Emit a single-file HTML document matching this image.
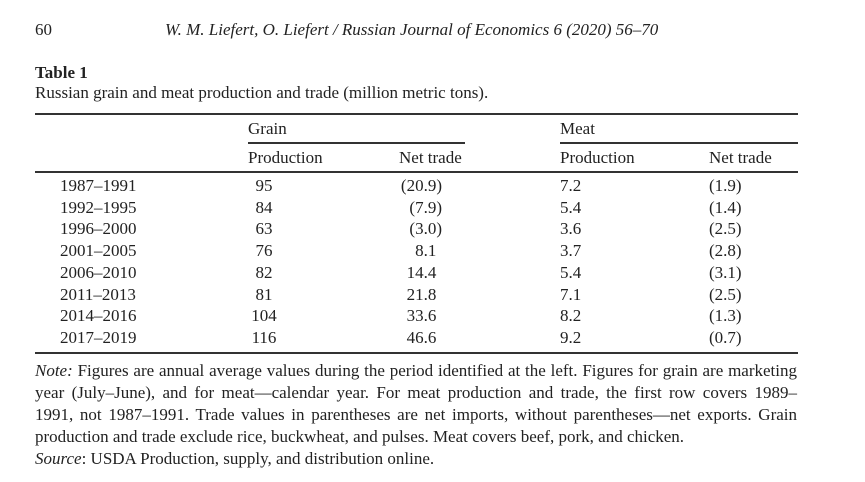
<!DOCTYPE html>
<html><head><meta charset="utf-8"><style>
body{margin:0;width:865px;height:482px;background:#fff;position:relative;overflow:hidden;font-family:"Liberation Serif",serif;color:#222;}
.t{position:absolute;font-size:17px;line-height:20px;white-space:nowrap}
.r{position:absolute;background:#333}
.c{text-align:center;width:60px}
.n{text-align:right;width:60px}
.j{position:absolute;left:35px;width:762px;font-size:17px;line-height:22px;white-space:nowrap;text-align:justify;text-align-last:justify}
</style></head><body>
<div class="t" style="left:35px;top:20px">60</div>
<div class="t" style="left:165px;top:20px;font-style:italic">W. M. Liefert, O. Liefert / Russian Journal of Economics 6 (2020) 56–70</div>
<div class="t" style="left:35px;top:63px;font-weight:bold">Table 1</div>
<div class="t" style="left:35px;top:83px">Russian grain and meat production and trade (million metric tons).</div>
<div class="r" style="left:35px;top:113px;width:763px;height:1.5px"></div>
<div class="t" style="left:248px;top:119px">Grain</div>
<div class="t" style="left:560px;top:119px">Meat</div>
<div class="r" style="left:248px;top:142px;width:217px;height:1.5px"></div>
<div class="r" style="left:560px;top:142px;width:238px;height:1.5px"></div>
<div class="t" style="left:248px;top:148px">Production</div>
<div class="t" style="left:399px;top:148px">Net trade</div>
<div class="t" style="left:560px;top:148px">Production</div>
<div class="t" style="left:709px;top:148px">Net trade</div>
<div class="r" style="left:35px;top:171px;width:763px;height:1.5px"></div>
<div id="rows"></div>
<div class="r" style="left:35px;top:352px;width:763px;height:1.5px"></div>
<div class="j" style="top:360px"><i>Note:</i> Figures are annual average values during the period identified at the left. Figures for grain are marketing</div>
<div class="j" style="top:382px">year (July–June), and for meat—calendar year. For meat production and trade, the first row covers 1989–</div>
<div class="j" style="top:404px">1991, not 1987–1991. Trade values in parentheses are net imports, without parentheses—net exports. Grain</div>
<div class="j" style="top:426px;text-align-last:left">production and trade exclude rice, buckwheat, and pulses. Meat covers beef, pork, and chicken.</div>
<div class="j" style="top:448px;text-align-last:left"><i>Source</i>: USDA Production, supply, and distribution online.</div>
<script>
var d=[["1987–1991","95","(20.9)","7.2","(1.9)"],["1992–1995","84","(7.9)","5.4","(1.4)"],["1996–2000","63","(3.0)","3.6","(2.5)"],["2001–2005","76","8.1","3.7","(2.8)"],["2006–2010","82","14.4","5.4","(3.1)"],["2011–2013","81","21.8","7.1","(2.5)"],["2014–2016","104","33.6","8.2","(1.3)"],["2017–2019","116","46.6","9.2","(0.7)"]];
var h="";d.forEach(function(r,i){var y=176+i*21.7;var p=function(v){return v[0]=="("?"":"<span style='visibility:hidden'>)</span>"};
h+="<div class='t' style='left:60px;top:"+y+"px'>"+r[0]+"</div>";
h+="<div class='t c' style='left:234px;top:"+y+"px'>"+r[1]+"</div>";
h+="<div class='t n' style='left:382px;top:"+y+"px'>"+r[2]+p(r[2])+"</div>";
h+="<div class='t' style='left:560px;top:"+y+"px'>"+r[3]+"</div>";
h+="<div class='t' style='left:709px;top:"+y+"px'>"+r[4]+"</div>";});
document.getElementById("rows").innerHTML=h;
</script>
</body></html>
